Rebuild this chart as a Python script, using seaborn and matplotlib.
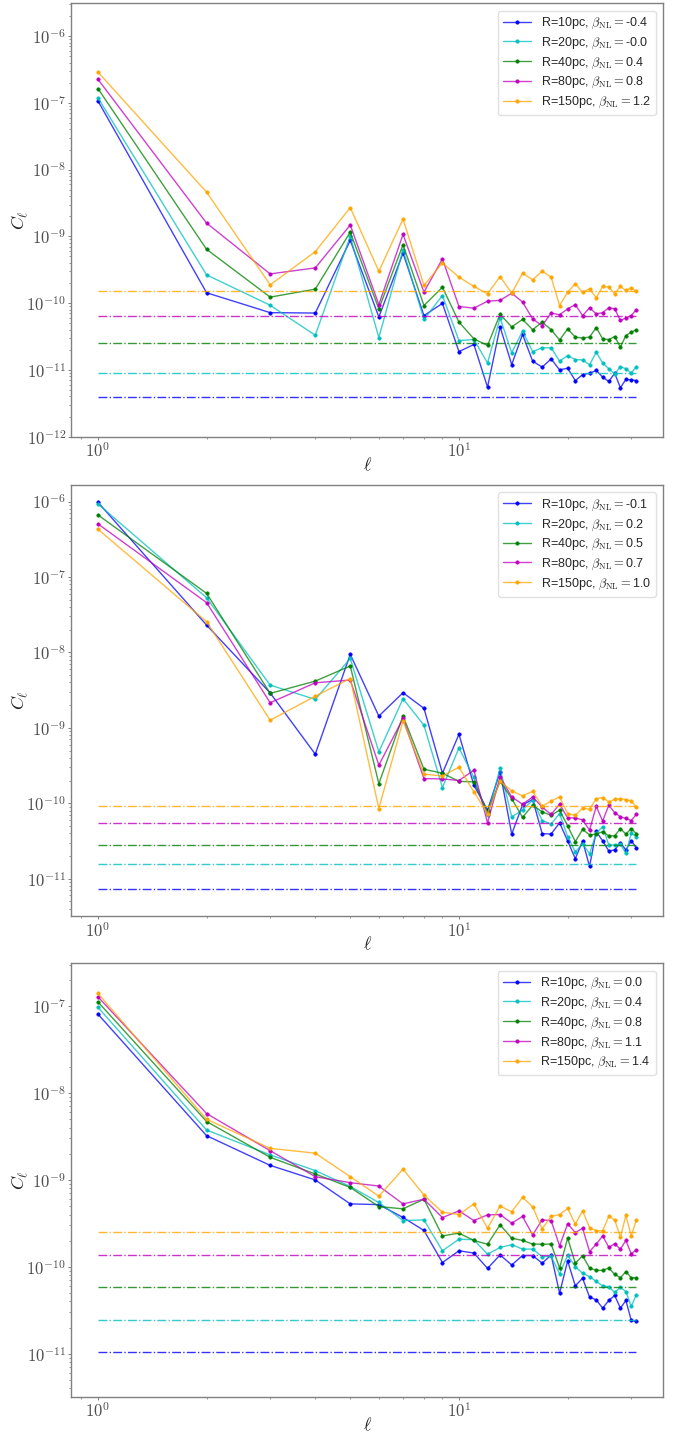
import numpy as np
import matplotlib
matplotlib.use("Agg")
import matplotlib.pyplot as plt
from matplotlib.colors import to_rgba
from matplotlib.ticker import FuncFormatter, FixedLocator, NullFormatter
import seaborn as sns

# multipoles
ell = list(range(1, 32))

radii = ["10", "20", "40", "80", "150"]
colors = ["blue", "c", "g", "m", "orange"]

# ---- panel 1 ----
beta_p1 = ["-0.4", "-0.0", "0.4", "0.8", "1.2"]
cl_p1_r10 = [1.07e-7, 1.43e-10, 7.2e-11, 7.1e-11, 8.7e-10, 6.2e-11, 5.6e-10, 6.5e-11, 9.9e-11,
             1.88e-11, 2.4e-11, 5.5e-12, 4.4e-11, 1.2e-11, 3.4e-11, 1.35e-11, 1.1e-11, 1.46e-11,
             1.0e-11, 1.06e-11, 6.9e-12, 8.5e-12, 8.9e-12, 9.8e-12, 7.8e-12, 6.7e-12, 8.9e-12,
             5.4e-12, 7.2e-12, 7.1e-12, 6.9e-12]
cl_p1_r20 = [1.19e-7, 2.65e-10, 9.3e-11, 3.3e-11, 1.0e-9, 3.04e-11, 6.3e-10, 5.7e-11, 1.30e-10,
             2.75e-11, 2.85e-11, 1.27e-11, 6.0e-11, 1.8e-11, 3.8e-11, 1.88e-11, 2.14e-11, 2.14e-11,
             1.35e-11, 1.64e-11, 1.43e-11, 1.41e-11, 1.19e-11, 1.84e-11, 1.27e-11, 1.04e-11, 8.7e-12,
             1.12e-11, 1.04e-11, 9.0e-12, 1.1e-11]
cl_p1_r40 = [1.64e-7, 6.4e-10, 1.23e-10, 1.62e-10, 1.16e-9, 8.2e-11, 7.5e-10, 9.2e-11, 1.73e-10,
             5.2e-11, 2.92e-11, 2.32e-11, 6.8e-11, 4.4e-11, 5.7e-11, 4.0e-11, 5.2e-11, 4.0e-11,
             2.8e-11, 4.1e-11, 3.1e-11, 3.0e-11, 3.1e-11, 4.3e-11, 2.92e-11, 2.85e-11, 3.16e-11,
             2.19e-11, 3.27e-11, 3.67e-11, 4.0e-11]
cl_p1_r80 = [2.26e-7, 1.58e-9, 2.74e-10, 3.37e-10, 1.48e-9, 9.5e-11, 1.07e-9, 1.46e-10, 4.6e-10,
             8.9e-11, 8.4e-11, 1.07e-10, 1.1e-10, 1.41e-10, 1.04e-10, 5.8e-11, 4.6e-11, 7.1e-11,
             6.7e-11, 8.2e-11, 9.5e-11, 6.5e-11, 8.5e-11, 6.9e-11, 7.2e-11, 8.5e-11, 8.2e-11,
             5.5e-11, 6.0e-11, 6.5e-11, 8.0e-11]
cl_p1_r150 = [2.9e-7, 4.6e-9, 1.88e-10, 5.9e-10, 2.7e-9, 3.0e-10, 1.82e-9, 1.84e-10, 4.0e-10,
              2.45e-10, 1.78e-10, 1.38e-10, 2.5e-10, 1.41e-10, 2.8e-10, 2.24e-10, 3.0e-10, 2.45e-10,
              9.2e-11, 1.46e-10, 1.95e-10, 1.46e-10, 1.64e-10, 1.2e-10, 1.78e-10, 1.74e-10, 1.38e-10,
              1.78e-10, 1.55e-10, 1.7e-10, 1.5e-10]
noise_p1 = [3.86e-12, 9.1e-12, 2.56e-11, 6.4e-11, 1.51e-10]

# ---- panel 2 ----
beta_p2 = ["-0.1", "0.2", "0.5", "0.7", "1.0"]
cl_p2_r10 = [9.8e-7, 2.3e-8, 2.9e-9, 4.47e-10, 9.4e-9, 1.43e-9, 2.92e-9, 1.81e-9, 2.5e-10,
             8.2e-10, 1.73e-10, 8.1e-11, 2.6e-10, 3.9e-11, 9.5e-11, 1.12e-10, 3.96e-11, 3.9e-11,
             5.5e-11, 3.16e-11, 1.84e-11, 3.16e-11, 1.45e-11, 4.25e-11, 3.16e-11, 2.33e-11, 2.4e-11,
             3.0e-11, 2.4e-11, 3.2e-11, 2.55e-11]
cl_p2_r20 = [9.3e-7, 5.3e-8, 3.68e-9, 2.38e-9, 8.3e-9, 4.8e-10, 2.43e-9, 1.08e-9, 1.61e-10,
             5.4e-10, 2.2e-10, 6.9e-11, 2.9e-10, 6.6e-11, 8.1e-11, 1.1e-10, 5.9e-11, 5.3e-11,
             7.3e-11, 3.6e-11, 2.26e-11, 2.9e-11, 2.14e-11, 4.0e-11, 4.9e-11, 2.8e-11, 2.8e-11,
             2.85e-11, 2.17e-11, 4.0e-11, 3.6e-11]
cl_p2_r40 = [6.65e-7, 6.06e-8, 2.86e-9, 4.16e-9, 6.6e-9, 1.82e-10, 1.44e-9, 2.82e-10, 2.5e-10,
             1.95e-10, 1.92e-10, 7.7e-11, 1.95e-10, 1.15e-10, 6.5e-11, 9.4e-11, 7.7e-11, 6.9e-11,
             8.1e-11, 5.0e-11, 3.1e-11, 4.5e-11, 3.8e-11, 3.9e-11, 4.2e-11, 3.7e-11, 3.7e-11,
             4.6e-11, 3.9e-11, 4.6e-11, 3.95e-11]
cl_p2_r80 = [5.06e-7, 4.57e-8, 2.15e-9, 3.95e-9, 4.3e-9, 3.2e-10, 1.33e-9, 2.12e-10, 2.1e-10,
             2.0e-10, 2.74e-10, 5.5e-11, 2.24e-10, 1.21e-10, 9.7e-11, 1.21e-10, 8.9e-11, 7.1e-11,
             9.7e-11, 6.4e-11, 6.4e-11, 6.0e-11, 4.4e-11, 9.1e-11, 5.8e-11, 9.4e-11, 7.5e-11,
             6.6e-11, 6.3e-11, 5.9e-11, 7.1e-11]
cl_p2_r150 = [4.3e-7, 2.55e-8, 1.26e-9, 2.63e-9, 4.5e-9, 8.5e-11, 1.24e-9, 2.43e-10, 2.3e-10,
              3.0e-10, 1.41e-10, 7.3e-11, 1.95e-10, 1.46e-10, 1.25e-10, 1.44e-10, 9.1e-11, 1.07e-10,
              1.21e-10, 7.3e-11, 6.9e-11, 8.6e-11, 8.3e-11, 1.15e-10, 1.19e-10, 1.04e-10, 1.13e-10,
              1.15e-10, 1.12e-10, 1.07e-10, 8.9e-11]
noise_p2 = [7.2e-12, 1.58e-11, 2.83e-11, 5.5e-11, 9.1e-11]

# ---- panel 3 ----
beta_p3 = ["0.0", "0.4", "0.8", "1.1", "1.4"]
cl_p3_r10 = [8.1e-8, 3.23e-9, 1.47e-9, 1.0e-9, 5.3e-10, 5.2e-10, 3.7e-10, 2.62e-10, 1.12e-10,
             1.53e-10, 1.44e-10, 9.6e-11, 1.37e-10, 1.05e-10, 1.35e-10, 1.35e-10, 1.1e-10, 1.37e-10,
             4.98e-11, 1.17e-10, 6.05e-11, 7.4e-11, 4.48e-11, 4.17e-11, 3.35e-11, 4.1e-11, 4.68e-11,
             3.35e-11, 4.1e-11, 2.42e-11, 2.37e-11]
cl_p3_r20 = [9.7e-8, 3.75e-9, 1.94e-9, 1.28e-9, 8.4e-10, 5.5e-10, 3.41e-10, 3.47e-10, 1.53e-10,
             2.08e-10, 2.05e-10, 1.4e-10, 1.67e-10, 1.8e-10, 1.6e-10, 1.6e-10, 1.31e-10, 1.33e-10,
             8.3e-11, 1.36e-10, 1.0e-10, 8.45e-11, 7.7e-11, 6.8e-11, 6.05e-11, 5.9e-11, 5.07e-11,
             5.8e-11, 5.2e-11, 3.5e-11, 4.77e-11]
cl_p3_r40 = [1.12e-7, 4.7e-9, 1.82e-9, 1.17e-9, 8.2e-10, 4.93e-10, 4.65e-10, 6.0e-10, 2.27e-10,
             2.44e-10, 2.01e-10, 1.82e-10, 3.04e-10, 2.14e-10, 2.01e-10, 1.83e-10, 1.82e-10, 1.83e-10,
             9.7e-11, 2.14e-10, 1.1e-10, 1.34e-10, 9.7e-11, 9.1e-11, 9.1e-11, 9.7e-11, 8.2e-11,
             7.5e-11, 8.8e-11, 7.5e-11, 7.5e-11]
cl_p3_r80 = [1.28e-7, 5.8e-9, 2.17e-9, 1.09e-9, 9.3e-10, 8.5e-10, 5.3e-10, 6.0e-10, 3.69e-10,
             4.4e-10, 3.41e-10, 3.96e-10, 4.0e-10, 3.18e-10, 3.8e-10, 2.33e-10, 3.47e-10, 3.41e-10,
             1.74e-10, 3.12e-10, 2.48e-10, 2.78e-10, 1.5e-10, 1.82e-10, 2.27e-10, 1.68e-10, 1.84e-10,
             1.6e-10, 2.01e-10, 1.41e-10, 1.57e-10]
cl_p3_r150 = [1.4e-7, 4.98e-9, 2.31e-9, 2.03e-9, 1.09e-9, 6.5e-10, 1.33e-9, 6.7e-10, 4.25e-10,
              4.0e-10, 5.3e-10, 2.78e-10, 5.0e-10, 4.3e-10, 6.3e-10, 4.9e-10, 2.73e-10, 3.8e-10,
              4.0e-10, 4.7e-10, 3.1e-10, 4.4e-10, 2.83e-10, 2.6e-10, 2.6e-10, 3.8e-10, 3.47e-10,
              2.19e-10, 3.9e-10, 2.27e-10, 3.47e-10]
noise_p3 = [1.04e-11, 2.46e-11, 5.9e-11, 1.37e-10, 2.5e-10]

panels = [
    dict(series=[cl_p1_r10, cl_p1_r20, cl_p1_r40, cl_p1_r80, cl_p1_r150],
         noise=noise_p1, beta=beta_p1, ylim=(1e-12, 3.1e-6),
         rect=[0.1036, 0.6953, 0.8647, 0.3024]),
    dict(series=[cl_p2_r10, cl_p2_r20, cl_p2_r40, cl_p2_r80, cl_p2_r150],
         noise=noise_p2, beta=beta_p2, ylim=(3.2e-12, 1.66e-6),
         rect=[0.1036, 0.3608, 0.8647, 0.3008]),
    dict(series=[cl_p3_r10, cl_p3_r20, cl_p3_r40, cl_p3_r80, cl_p3_r150],
         noise=noise_p3, beta=beta_p3, ylim=(3.2e-12, 3.1e-7),
         rect=[0.1036, 0.0253, 0.8647, 0.3024]),
]

sns.set_style("white", {
    "axes.edgecolor": "0.5",
    "xtick.bottom": True, "ytick.left": True,
    "xtick.color": "0.3", "ytick.color": "0.3",
})
plt.rcParams["font.family"] = ["Liberation Sans", "DejaVu Sans"]
plt.rcParams["mathtext.fontset"] = "cm"
for axis in ("xtick", "ytick"):
    plt.rcParams[f"{axis}.major.size"] = 2.5
    plt.rcParams[f"{axis}.minor.size"] = 1.5
    plt.rcParams[f"{axis}.major.width"] = 0.5
    plt.rcParams[f"{axis}.minor.width"] = 0.4

decade_fmt = FuncFormatter(lambda v, pos: r"$10^{%d}$" % int(round(np.log10(v))))


def log_ticks(lo, hi):
    """Major (decade) and minor tick positions lying inside [lo, hi]."""
    k0, k1 = int(np.floor(np.log10(lo))), int(np.ceil(np.log10(hi)))
    major = [10.0 ** k for k in range(k0, k1 + 1) if lo * 0.999 <= 10.0 ** k <= hi * 1.001]
    minor = [m * 10.0 ** k for k in range(k0, k1 + 1) for m in range(2, 10)
             if lo <= m * 10.0 ** k <= hi]
    return major, minor


fig = plt.figure(figsize=(6.85, 14.33), dpi=100)

for p in panels:
    ax = fig.add_axes(p["rect"])
    for vals, noise, col, rad, b in zip(p["series"], p["noise"], colors, radii, p["beta"]):
        sns.lineplot(x=ell, y=vals, ax=ax, color=to_rgba(col, 0.75), linewidth=1.0,
                     marker="o", markersize=2.5, markerfacecolor=col,
                     markeredgecolor=col, markeredgewidth=0.4,
                     label=r"R=%spc, $\beta_{\rm NL}=$%s" % (rad, b))
        ax.hlines(noise, ell[0], ell[-1], colors=[to_rgba(col, 0.8)],
                  linestyles="-.", linewidth=1.0)
    ax.set_xscale("log")
    ax.set_yscale("log")
    ax.set_ylim(*p["ylim"])
    ax.margins(x=0.05)
    xlo, xhi = ax.get_xlim()
    xmaj, xmin = log_ticks(xlo, xhi)
    ymaj, ymin = log_ticks(*p["ylim"])
    ax.xaxis.set_major_locator(FixedLocator(xmaj))
    ax.xaxis.set_minor_locator(FixedLocator(xmin))
    ax.yaxis.set_major_locator(FixedLocator(ymaj))
    ax.yaxis.set_minor_locator(FixedLocator(ymin))
    ax.xaxis.set_major_formatter(decade_fmt)
    ax.yaxis.set_major_formatter(decade_fmt)
    ax.xaxis.set_minor_formatter(NullFormatter())
    ax.yaxis.set_minor_formatter(NullFormatter())
    ax.tick_params(axis="both", which="major", labelsize=12, pad=1)
    ax.set_xlabel(r"$\ell$", fontsize=13)
    ax.set_ylabel(r"$C_\ell$", fontsize=13)
    ax.xaxis.set_label_coords(0.5, -0.047)
    ax.yaxis.set_label_coords(-0.07, 0.5)
    for s in ax.spines.values():
        s.set_linewidth(1.0)
    ax.legend(loc="upper right", fontsize=9, frameon=True, fancybox=True,
              framealpha=0.8, edgecolor="0.85", handlelength=2.2,
              labelspacing=0.35, borderaxespad=0.6)

fig.savefig("out.png", dpi=100)
